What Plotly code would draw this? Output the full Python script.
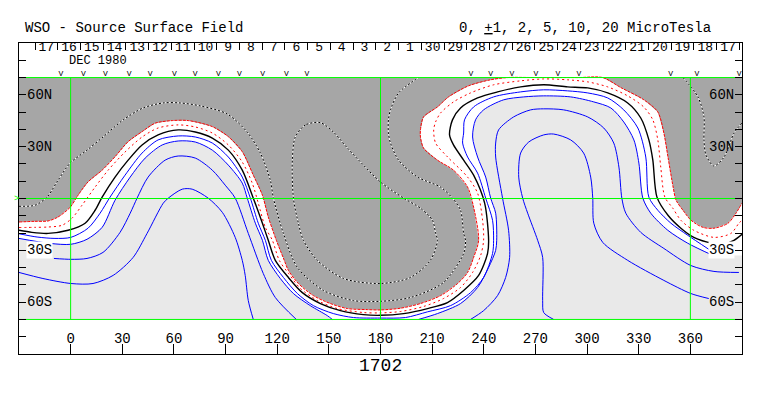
import plotly.graph_objects as go

# Contour levels: (longitude, latitude) in degrees
neg2_lon = [-30,-20.7,-13.1,-7.3,-0.3,4.3,10.1,18.3,25.8,33.4,41.5,49.1,59.0,68.3,82.3,91.6,99.7,106.1,111.4,114.8,119.5,124.1,126.5,132.3,141.0,150.9,160.8,172.4,180,191.6,203.2,214.9,224.8,230.6,234.1,237,234.1,230.6,222.4,213.1,205,203.2,203.2,205,213.1,219.5,231.1,243.9,253.8,270,295,309.1,319.6,333,341.1,344.6,347,350,351.7,355.7,360.4,367.3,373.7,381.9,386.5,390]
neg2_lat = [-13.6,-13.2,-13.0,-10.7,-5.1,1.9,9.6,16.4,24.2,32.9,38.7,43.6,45.1,45.1,41.6,35.8,27.1,13.5,1.9,-10.7,-24.2,-35.8,-41.6,-49.2,-56.2,-60.8,-63.7,-64.3,-64.5,-63.5,-60.8,-56.2,-49.2,-42.8,-34.1,-24.2,-5.1,6.6,16.4,22.2,29.2,35.6,39.7,47.2,53,58.8,65.2,68.7,70,70,70,70,64.2,57.1,50.1,37.9,24,6.6,-1,-6.8,-12.6,-16.7,-17.2,-14.3,-8.5,-2.7]

neg1_lon = [-30,-20.7,-13.1,-5,0.8,6.6,14.2,21.8,31.6,41.5,50.8,62.5,72.4,82.3,91.6,99.7,105.5,109,113.1,117.2,121.2,126.5,133.4,143.3,154.9,170,180,191.6,205,216.6,226.5,233.5,238.2,239.9,239.3,236.4,230.6,219,212,210.9,212,214.9,222.4,232.3,245.7,261.4,274.8,288.7,300.4,312,323.6,332.9,338.2,341.1,342.8,345.2,349.8,354.5,362,373.7,383.6,388.2,390]
neg1_lat = [-16.8,-16.7,-16.5,-15.5,-11.4,-3.9,6.6,16.4,26.9,35.6,40.8,42.6,41.4,37.9,31,21.1,8.9,-2.7,-16.7,-24.2,-35.8,-43.3,-52,-59,-63.7,-66,-66.2,-65.4,-62.5,-57.9,-51.5,-42.8,-32.9,-24.2,-12.6,3.1,12.4,24,32.1,39.7,44.3,49.5,55.9,61.1,65.8,68.1,69.2,68.7,67.5,64.6,59.4,53,45.5,33.9,18.2,0.8,-5.6,-12.6,-18.4,-22.5,-20.2,-14.3,-12.6]

zero_lon = [-30,-22.5,-13.1,-1.5,8.4,14.2,18.3,25.8,33.4,41.5,50.8,62.5,72.4,82.3,91.6,99.7,106.1,111.4,114.8,118.9,126.5,134.6,145.1,156.7,170,180,193.4,207.3,218.9,228.3,237,242.2,242.8,240.5,234.1,228.3,222.4,220.1,221.8,226.5,236.4,248,261.4,274.8,288.7,300.4,312,323.6,331.2,335.9,338.2,340.6,347,354.5,362,373,378.9,385.3,390]
zero_lat = [-18.4,-19.6,-20.2,-18.4,-14.3,-6.8,0.8,12.4,22.2,31,36.8,39.7,38.5,35,28,16.4,0.2,-14.3,-24.2,-35.8,-45.7,-54.5,-60.8,-64.9,-67.2,-67.6,-66.6,-63.7,-60.2,-53.2,-44.5,-31.8,-24.2,-2.7,13.5,22.2,31,36.8,45.5,52.4,58.2,61.7,64.6,65.8,64.6,64,61.1,55.3,46.6,33.9,22.2,0.8,-9.7,-17.2,-22.5,-26,-26.5,-24.2,-20.7]

pos1_lon = [-30,-19.5,-9.1,0.1,10.1,17.1,22.9,31.6,41.5,50.8,62.5,72.4,82.3,91.6,99.7,104.4,109,113.1,116.6,123.6,131.7,141,152.6,164.3,180,194.5,207.3,220.7,232.3,239.9,245.1,245.7,245.1,241.1,236.4,230.6,227.7,228.3,228.8,234.1,245.7,261.4,274.8,288.7,300.4,312,321.3,329.5,334.1,335.9,341.1,348.7,358.5,370.7]
pos1_lat = [-20.4,-22.3,-23.1,-22.5,-17.2,-8.5,0.8,13.5,26.3,33.9,36.2,35.6,32.1,24,12.4,0.2,-14.3,-24.2,-35.8,-45.7,-55,-62,-66.6,-68.9,-69.2,-68.9,-65.6,-62,-54.5,-45.7,-31.8,-24.2,-12.6,0.2,14.7,24,32.1,37.9,45.5,53,58.8,61.7,62.9,62.3,61.1,58.2,51.3,40.8,24,0.8,-6.8,-14.3,-21.3,-29.4]

pos2a_lon = [-30,-12,0.1,9.5,18.3,25.8,34.6,43.3,53.2,62.5,72.4,82.3,91.6,99.7,102.6,107.3,111.4,114.8,121.8,129.4,139.2,149.1,152]
pos2a_lat = [-23.1,-26,-26.5,-23.6,-16.7,-1,12.4,23.4,31,33.3,32.7,28,19.3,8.9,0.2,-14.3,-24.2,-35.8,-46.3,-55,-62,-67.8,-70]
pos2b_lon = [202.1,213.1,226.5,236.4,242.8,246.9,247.5,246.9,244,241.1,236.4,233.5,235.2,239.9,251.5,263.2,274.8,290.5,303.9,313.8,321.3,327.2,330.1,332.4,337,346.9,358.5,373]
pos2b_lat = [-70,-66.6,-60.8,-51.5,-39.9,-30,-24.2,-8.5,0.2,12.4,24,35.6,45.5,51.3,57.1,58.8,59.4,58.8,55.9,52.4,44.3,33.9,20.5,0.2,-8.5,-18.4,-25.9,-32.9]

pos5a_lon = [-9.7,0.2,9.5,18.8,28.7,34.6,38.6,45,54.9,62.5,72.4,82.3,89.8,95.6,103.2,111.9,118.9,131.1]
pos5a_lat = [-34.7,-35.2,-34.7,-31.2,-19.6,-8.5,0.2,12.4,22.2,24.6,23.4,16.4,7.7,0.2,-20.2,-43.4,-57.3,-70]
pos5b_lon = [232.3,239.9,248,252.7,255,254.4,250.9,246.9,246.9,248.6,257.3,267.2,274.8,286.4,300.4,309.7,315.5,318.5,320.2,322.5,331.2,344.6,360.3,373.7,388.2]
pos5b_lat = [-70,-64.9,-56.2,-45.7,-34.1,-18.4,0.2,24,32.1,39.7,47.2,51.3,51.9,51.3,47.2,40.8,32.1,18.2,0.2,-8.5,-19.6,-28.9,-38.8,-42.2,-42.8]

pos10a_lon = [-30,-16.1,0.2,13,24.7,36.3,44.4,53.8,56.7,64.8,70.6,79.9,88.1,95.6,99.7,101.4,103.2,106.1]
pos10a_lat = [-42.8,-46.3,-49.2,-49.2,-44.5,-34.1,-20.2,-2.7,0.2,5.4,5.4,0.2,-8,-22.5,-35.8,-44.5,-59.1,-70]
pos10b_lon = [280.6,274.8,274.2,274.2,271.3,265.5,262.6,260.3,261.4,266.1,274.8,280.6,290.5,298,302.1,303.3,303.9,309.1,323.6,344.6,360.3,370.7]
pos10b_lat = [-70,-66,-59.1,-34.1,-24.2,-8.5,0.2,12.4,26.3,32.7,36.8,37.3,33.9,26.3,12.4,0.2,-14.3,-25.4,-35.8,-47.4,-55,-57.9]

neg5a_lon = [-30,-20.7,-13.7,-7.3,-0.3,9.5,18.8,30.5,42.1,53.7,63.6,75.3,91,102.6,110.2,116,117.8,123.6,131.7,146.8,164.3,180,197.4,216.6,228.3,229.4,228.3,226.5,221.8,214.9,201.5,190.5,185.8,184.6,184.6,185.8,190.5,202.1]
neg5a_lat = [-4.5,-3.9,0.8,10.6,20.5,28,35.6,45.5,52.4,55.3,55.3,53.6,48.9,38.4,26.3,10.6,0.2,-20.2,-39.9,-53.2,-59.1,-59.5,-57.3,-48.6,-31.8,-24.2,-20.2,-6.8,0.2,6.6,12.4,22.2,32.1,37.9,45.5,51.3,61.1,70]
neg5b_lon = [355.7,364.4,367.9,367.9,369.1,373.7,379.6,385.4,390]
neg5b_lat = [70,58.8,47.2,33.9,25.1,18.8,24,37.9,43.7]
neg10_lon = [145.1,136.4,130.5,128.8,129.4,132.3,135.2,143.3,158.5,180,197.4,209,213.1,212,210.2,203.2,193.4,180,170.1,160.8,152.6,145.1]
neg10_lat = [43.9,42.6,35.6,22.2,0.2,-14.3,-24.2,-35.8,-46.3,-49.2,-45.7,-35.8,-24.2,-20.2,-12.6,-5.6,0.2,9.5,19.3,29.2,38.5,43.9]

# Axis content
lon_ticks = [0,30,60,90,120,150,180,210,240,270,300,330,360]
lat_ticks = [-80,-70,-60,-50,-40,-30,-20,-10,0,10,20,30,40,50,60,70,80]
day_ticks = [-20.7,-7.5,5.7,18.9,32.1,45.3,58.5,71.7,84.9,98.1,111.3,124.5,137.7,150.9,164.1,177.3,190.5,203.7,216.9,230.1,243.3,256.5,269.7,282.9,296.1,309.3,322.5,335.7,348.9,362.1,375.3,388.5]
day_lons = [-14.1,-0.9,12.3,25.5,38.7,51.9,65.1,78.3,91.5,104.7,117.9,131.1,144.3,157.5,170.7,183.9,197.1,210.3,223.5,236.7,249.9,263.1,276.3,289.5,302.7,315.9,329.1,342.3,355.5,368.7,381.9]
day_labels = ["17","16","15","14","13","12","11","10","9","8","7","6","5","4","3","2","1","30","29","28","27","26","25","24","23","22","21","20","19","18","17"]
obs_lons = [-5.6,7.4,20.2,34,46.2,60.3,72.4,85.9,98.1,111.5,125.3,137.3,232.5,244,256.4,270.3,283.1,295.3,348.5,363.8,388.4]
lat_names = ["60N","30N","30S","60S"]
lat_vals = [60,30,-30,-60]
green_lons = [0,180,360]
green_lats = [-70,0,70]

GRAY, LIGHT, GREEN, RED, BLUE = "#a6a6a6", "#e9e9e9", "#00ff00", "#ff0000", "#0000ff"
MONO = "Liberation Mono"
fig = go.Figure()

def line(lon, lat, color, dash="solid", width=1, smooth=True):
    ln = dict(color=color, width=width, dash=dash)
    if smooth:
        ln.update(shape="spline", smoothing=0.8)
    fig.add_trace(go.Scatter(x=lon, y=lat, mode="lines", line=ln, hoverinfo="skip", showlegend=False))

def fill(lon, lat, color):
    fig.add_trace(go.Scatter(x=lon, y=lat, mode="none", fill="toself", fillcolor=color, hoverinfo="skip", showlegend=False))

fill([-30,390,390,-30], [-70,-70,70,70], GRAY)
fill(neg2_lon + [390,-30], neg2_lat + [-70,-70], "#ffffff")
fill(pos2a_lon + pos2b_lon + [390,390,-30], pos2a_lat + pos2b_lat + [-33,-70,-70], LIGHT)

line(neg2_lon, neg2_lat, RED, "3px,1px")
line(neg1_lon, neg1_lat, RED, "2px,3px")
line(zero_lon, zero_lat, "#000000", width=1.4)
for lon, lat in [(pos1_lon,pos1_lat),(pos2a_lon,pos2a_lat),(pos2b_lon,pos2b_lat),(pos5a_lon,pos5a_lat),(pos5b_lon,pos5b_lat),(pos10a_lon,pos10a_lat),(pos10b_lon,pos10b_lat)]:
    line(lon, lat, BLUE)
for lon, lat in [(neg5a_lon,neg5a_lat),(neg5b_lon,neg5b_lat),(neg10_lon,neg10_lat)]:
    line(lon, lat, "#ffffff")
    line(lon, lat, "#000000", "2px,2px")

# Green reference grid
for lon in green_lons:
    line([lon, lon], [green_lats[0], green_lats[-1]], GREEN, smooth=False)
for lat in green_lats:
    line([-30, 390], [lat, lat], GREEN, smooth=False)

# Day numbers along the top (on the top axis) and observation marks
fig.add_trace(go.Scatter(x=day_lons, y=[87.3]*len(day_lons), mode="text", text=day_labels, xaxis="x2", cliponaxis=False,
                         textfont=dict(family=MONO, size=13, color="#000"), hoverinfo="skip", showlegend=False))
fig.add_trace(go.Scatter(x=obs_lons, y=[72.2]*len(obs_lons), mode="text", text=["V"]*len(obs_lons),
                         textfont=dict(family=MONO, size=8, color="#000"), hoverinfo="skip", showlegend=False))
fig.add_trace(go.Scatter(x=lon_ticks, y=[-81.5]*len(lon_ticks), mode="text", text=[str(v) for v in lon_ticks],
                         textfont=dict(family=MONO, size=14, color="#000"), hoverinfo="skip", showlegend=False))

ann = []
for name, val in zip(lat_names, lat_vals):
    bg = "#ffffff" if name == "30S" else None
    for x, anchor in [(-26, "left"), (386, "right")]:
        ann.append(dict(x=x, y=val, xref="x", yref="y", text=name, showarrow=False, xanchor=anchor, yanchor="middle", bgcolor=bg,
                        borderpad=0, font=dict(family=MONO, size=14, color="#000")))
ann.append(dict(x=-2, y=79.4, xref="x", yref="y", text="DEC 1980", showarrow=False, xanchor="left", yanchor="middle", font=dict(family=MONO, size=12, color="#000")))
ann.append(dict(x=0.5, y=-0.039, xref="paper", yref="paper", text="1702", showarrow=False, xanchor="center", yanchor="middle", font=dict(family=MONO, size=18, color="#000")))
ann.append(dict(x=0.006, y=1.049, xref="paper", yref="paper", text="WSO - Source Surface Field", showarrow=False, xanchor="left", yanchor="middle", font=dict(family=MONO, size=14, color="#000")))
ann.append(dict(x=0.606, y=1.049, xref="paper", yref="paper", text="0, <u>+</u>1, 2, 5, 10, 20 MicroTesla", showarrow=False, xanchor="left", yanchor="middle", font=dict(family=MONO, size=14, color="#000")))
ann.append(dict(x=-0.003, y=0, xref="paper", yref="y", text=">", showarrow=False, xanchor="center", yanchor="middle", font=dict(family=MONO, size=9, color=GREEN)))

fig.update_layout(
    width=763, height=396, autosize=False,
    margin=dict(l=11, r=29, t=35, b=50, pad=0),
    paper_bgcolor="#ffffff", plot_bgcolor="#ffffff", showlegend=False, annotations=ann,
    xaxis=dict(range=[-30,390], tickvals=lon_ticks, ticks="inside", ticklen=10, tickcolor="#000", showticklabels=False,
               showgrid=False, zeroline=False, showline=True, linecolor="#000", linewidth=1, mirror=True),
    xaxis2=dict(range=[-30,390], overlaying="x", side="top", tickvals=day_ticks, ticks="inside", ticklen=7, tickcolor="#000",
                showticklabels=False, showgrid=False, zeroline=False),
    yaxis=dict(range=[-90,90], tickvals=lat_ticks, ticks="inside", ticklen=7, tickcolor="#000", showticklabels=False,
               showgrid=False, zeroline=False, showline=True, linecolor="#000", linewidth=1, mirror="ticks"),
)
fig.write_html("out.html")
